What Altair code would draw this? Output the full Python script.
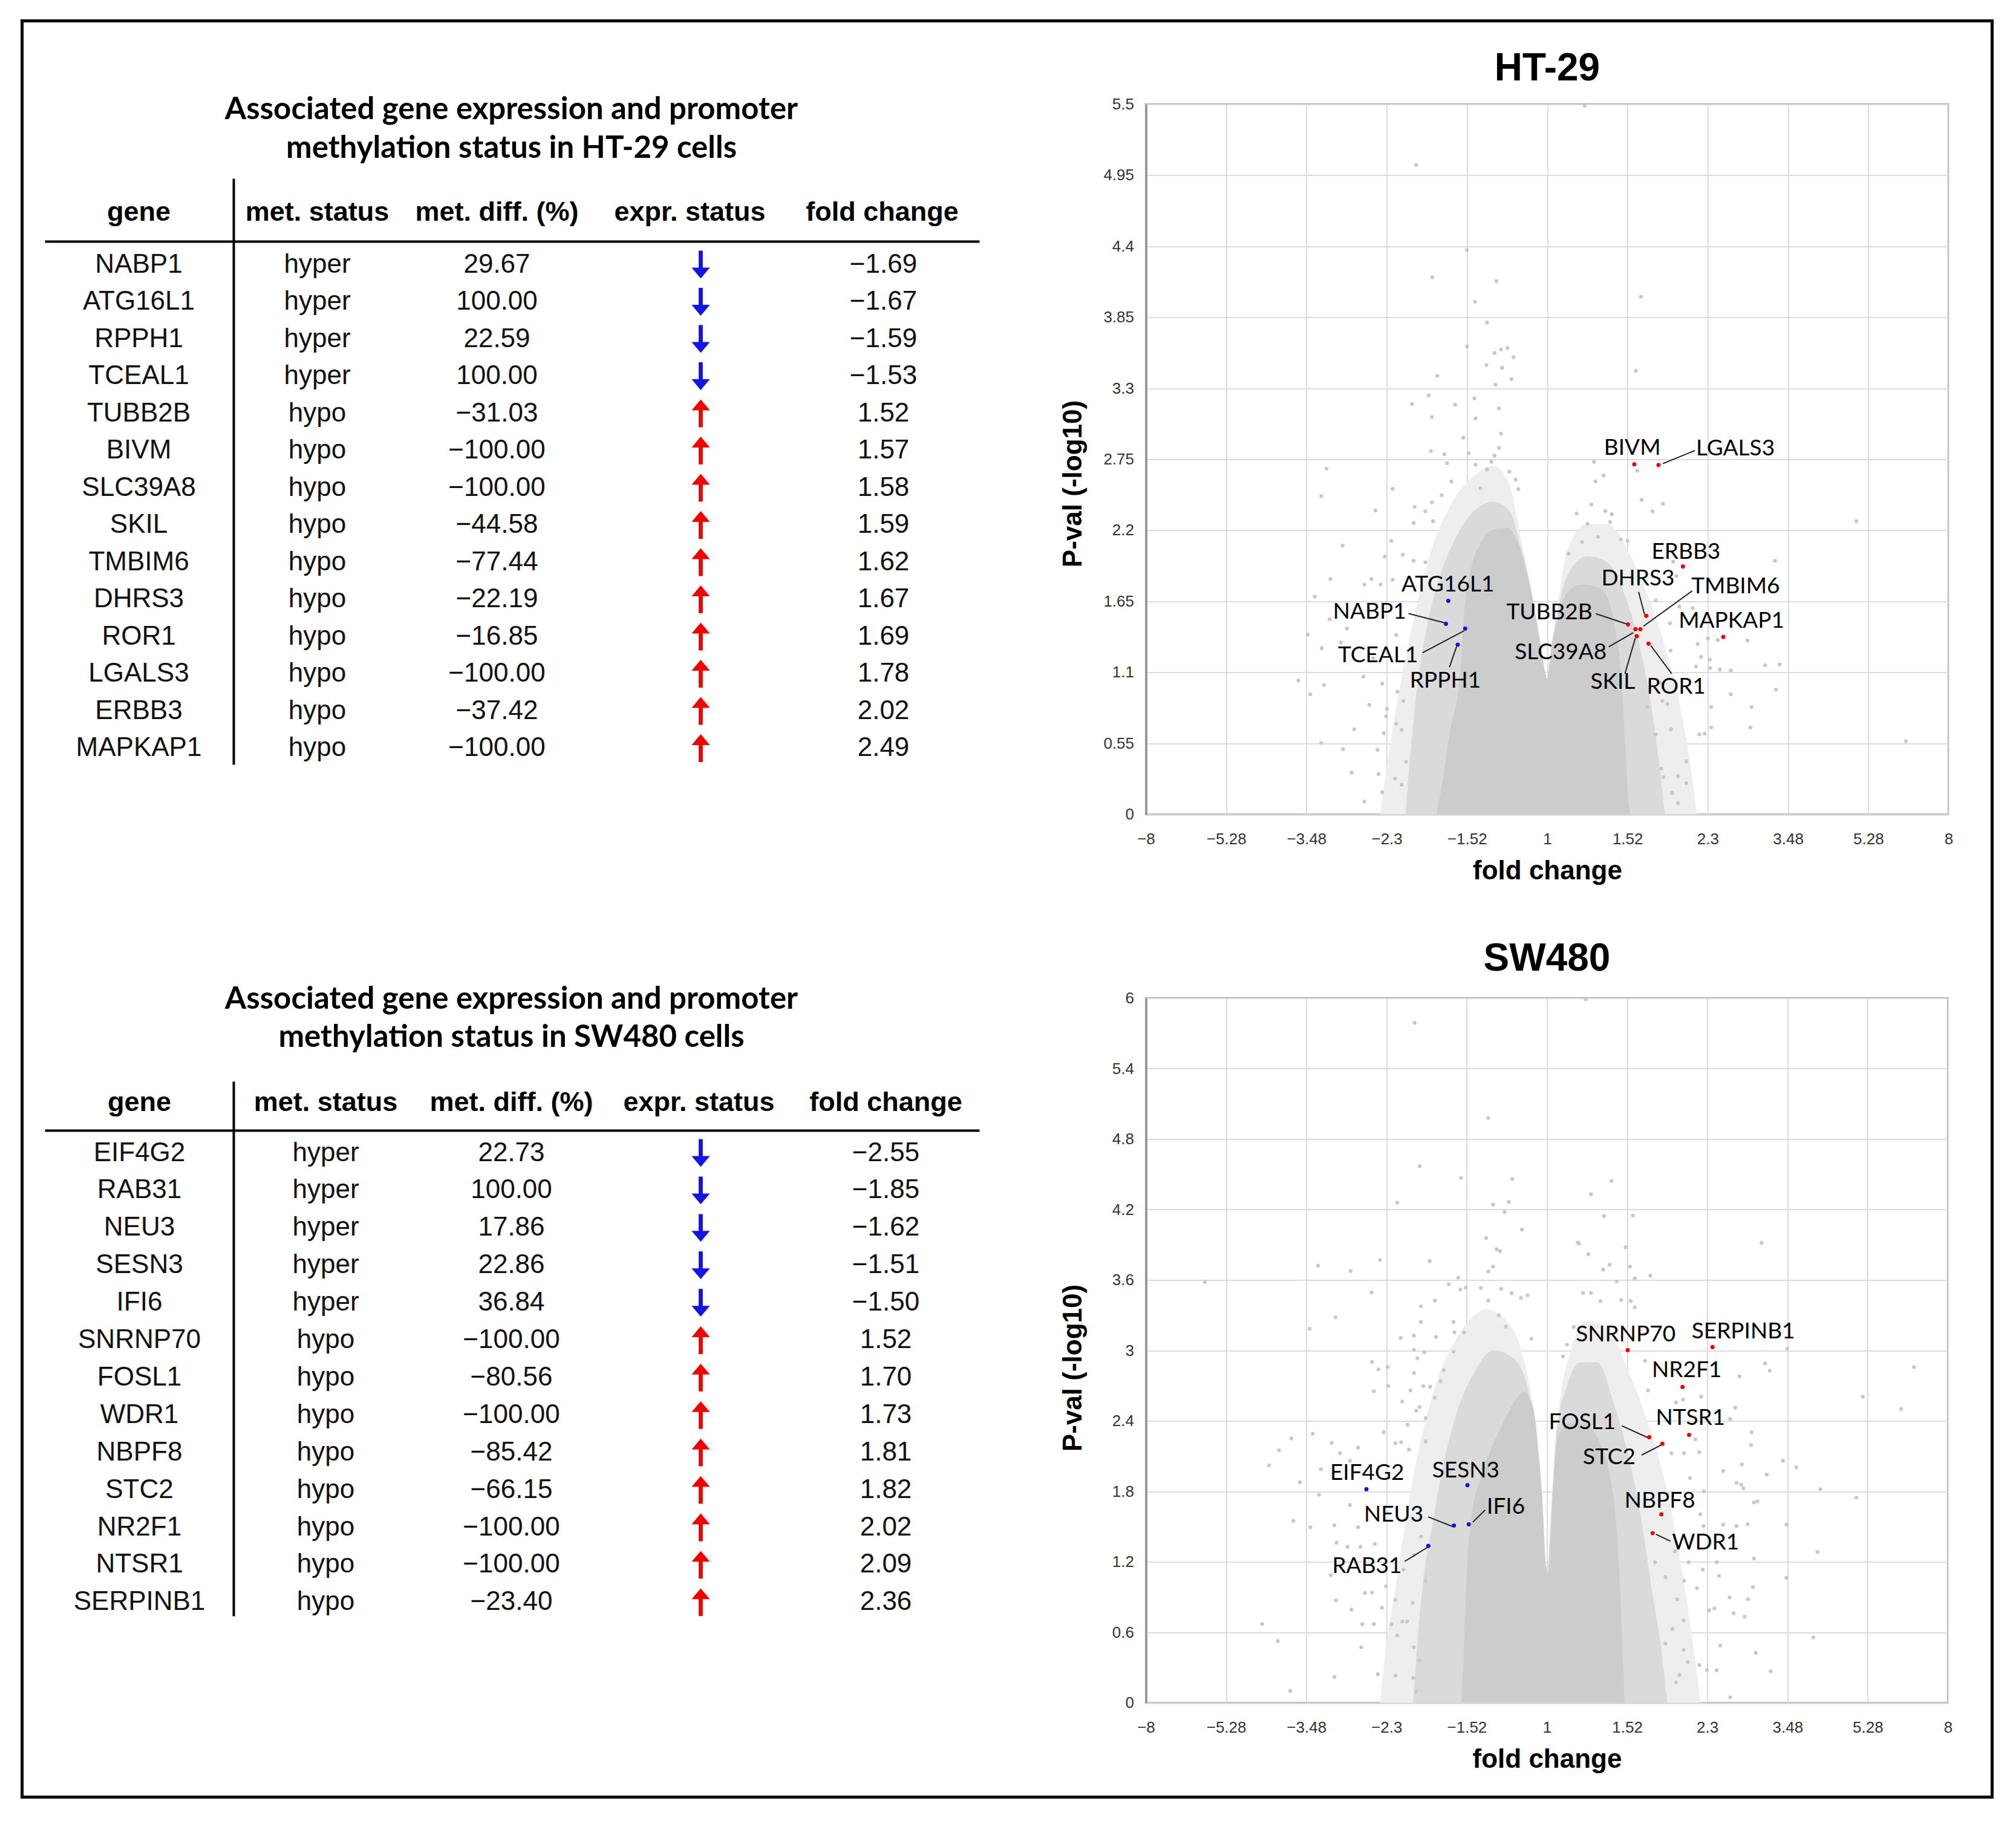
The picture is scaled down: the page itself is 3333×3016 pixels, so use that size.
import math
import altair as alt
import pandas as pd

# ----------------------------------------------------------------- data
HEADERS = ["gene", "met. status", "met. diff. (%)", "expr. status", "fold change"]

HT_TITLE = ["Associated gene expression and promoter", "methylation status in HT-29 cells"]
HT_GENES = ["NABP1", "ATG16L1", "RPPH1", "TCEAL1", "TUBB2B", "BIVM", "SLC39A8", "SKIL",
            "TMBIM6", "DHRS3", "ROR1", "LGALS3", "ERBB3", "MAPKAP1"]
HT_MET_STATUS = ["hyper", "hyper", "hyper", "hyper", "hypo", "hypo", "hypo", "hypo",
                 "hypo", "hypo", "hypo", "hypo", "hypo", "hypo"]
HT_MET_DIFF = [29.67, 100.00, 22.59, 100.00, -31.03, -100.00, -100.00, -44.58,
               -77.44, -22.19, -16.85, -100.00, -37.42, -100.00]
HT_FOLD = [-1.69, -1.67, -1.59, -1.53, 1.52, 1.57, 1.58, 1.59, 1.62, 1.67, 1.69, 1.78, 2.02, 2.49]
HT_PVAL = [1.476, 1.654, 1.314, 1.438, 1.471, 2.711, 1.434, 1.380, 1.434, 1.538, 1.322, 2.706, 1.920, 1.374]

SW_TITLE = ["Associated gene expression and promoter", "methylation status in SW480 cells"]
SW_GENES = ["EIF4G2", "RAB31", "NEU3", "SESN3", "IFI6", "SNRNP70", "FOSL1", "WDR1", "NBPF8",
            "STC2", "NR2F1", "NTSR1", "SERPINB1"]
SW_MET_STATUS = ["hyper", "hyper", "hyper", "hyper", "hyper", "hypo", "hypo", "hypo", "hypo",
                 "hypo", "hypo", "hypo", "hypo"]
SW_MET_DIFF = [22.73, 100.00, 17.86, 22.86, 36.84, -100.00, -80.56, -100.00, -85.42,
               -66.15, -100.00, -100.00, -23.40]
SW_FOLD = [-2.55, -1.85, -1.62, -1.51, -1.50, 1.52, 1.70, 1.73, 1.81, 1.82, 2.02, 2.09, 2.36]
SW_PVAL = [1.818, 1.335, 1.509, 1.853, 1.519, 3.003, 2.261, 1.444, 1.604, 2.206, 2.689, 2.281, 3.028]

# x axis: log2 fold change, labelled with the fold change
X_TICKS = [-3, -2.4, -1.8, -1.2, -0.6, 0, 0.6, 1.2, 1.8, 2.4, 3]
X_TICK_LABELS = ["\u22128", "\u22125.28", "\u22123.48", "\u22122.3", "\u22121.52", "1",
                 "1.52", "2.3", "3.48", "5.28", "8"]
HT_Y_TICKS = [0, 0.55, 1.1, 1.65, 2.2, 2.75, 3.3, 3.85, 4.4, 4.95, 5.5]
HT_Y_LABELS = ["0", "0.55", "1.1", "1.65", "2.2", "2.75", "3.3", "3.85", "4.4", "4.95", "5.5"]
SW_Y_TICKS = [0, 0.6, 1.2, 1.8, 2.4, 3.0, 3.6, 4.2, 4.8, 5.4, 6.0]
SW_Y_LABELS = ["0", "0.6", "1.2", "1.8", "2.4", "3", "3.6", "4.2", "4.8", "5.4", "6"]

# dense background cloud, read as envelopes (log2 FC, -log10 p)
HT_CORE_X = [-0.83, -0.80, -0.73, -0.65, -0.62, -0.57, -0.50, -0.42, -0.30, -0.20, -0.11, -0.05, 0.0,
             0.03, 0.075, 0.136, 0.26, 0.38, 0.45, 0.50, 0.55, 0.58, 0.60, 0.62]
HT_CORE_Y = [0.0, 0.15, 0.62, 1.09, 1.56, 1.90, 2.10, 2.20, 2.22, 2.05, 1.67, 1.32, 1.05,
             1.28, 1.50, 1.70, 1.78, 1.76, 1.68, 1.48, 1.10, 0.60, 0.20, 0.0]
HT_INNER_X = [-1.06, -1.02, -0.97, -0.90, -0.80, -0.68, -0.55, -0.40, -0.28, -0.20, -0.11, -0.05, 0.0,
              0.03, 0.075, 0.15, 0.30, 0.45, 0.58, 0.68, 0.76, 0.83, 0.88]
HT_INNER_Y = [0.0, 0.50, 1.00, 1.45, 1.85, 2.15, 2.35, 2.42, 2.35, 2.08, 1.68, 1.32, 1.05,
              1.28, 1.55, 1.85, 2.00, 1.95, 1.70, 1.35, 0.95, 0.45, 0.0]
HT_OUTER_X = [-1.25, -1.18, -1.10, -1.00, -0.88, -0.72, -0.55, -0.40, -0.28, -0.20, -0.11, -0.05,
              0.0, 0.03, 0.075, 0.15, 0.30, 0.45, 0.60, 0.75, 0.88, 0.98, 1.06, 1.12]
HT_OUTER_Y = [0.0, 0.50, 1.00, 1.50, 2.00, 2.40, 2.62, 2.70, 2.55, 2.15, 1.70, 1.32,
              1.05, 1.30, 1.60, 2.05, 2.25, 2.25, 2.05, 1.70, 1.30, 0.90, 0.45, 0.0]

SW_CORE_X = [-0.64, -0.62, -0.60, -0.56, -0.50, -0.44, -0.33, -0.25, -0.17, -0.10, -0.06, -0.035, -0.01,
             0.01, 0.02, 0.046, 0.08, 0.17, 0.27, 0.40, 0.47, 0.52, 0.55, 0.58]
SW_CORE_Y = [0.0, 0.50, 1.10, 1.60, 1.90, 2.10, 2.38, 2.55, 2.65, 2.50, 2.10, 1.75, 1.20,
             1.10, 1.20, 1.80, 2.25, 2.38, 2.38, 2.20, 1.94, 1.50, 0.90, 0.0]
SW_INNER_X = [-1.00, -0.97, -0.93, -0.86, -0.78, -0.68, -0.55, -0.40, -0.27, -0.16, -0.08, -0.03, 0.0,
              0.03, 0.07, 0.15, 0.25, 0.38, 0.50, 0.60, 0.70, 0.78, 0.85, 0.90]
SW_INNER_Y = [0.0, 0.50, 1.00, 1.50, 2.00, 2.45, 2.80, 3.00, 2.95, 2.75, 2.20, 1.60, 1.10,
              1.60, 2.30, 2.70, 2.90, 2.90, 2.55, 2.15, 1.60, 1.00, 0.50, 0.0]
SW_OUTER_X = [-1.25, -1.20, -1.13, -1.05, -0.95, -0.82, -0.65, -0.45, -0.30, -0.18, -0.08, -0.03, 0.0,
              0.03, 0.08, 0.18, 0.30, 0.45, 0.60, 0.75, 0.90, 1.00, 1.08, 1.15]
SW_OUTER_Y = [0.0, 0.50, 1.00, 1.60, 2.20, 2.75, 3.15, 3.35, 3.25, 2.95, 2.30, 1.60, 1.10,
              1.60, 2.40, 3.00, 3.25, 3.20, 2.85, 2.40, 1.80, 1.20, 0.60, 0.0]

# individual scattered genes outside the dense cloud (log2 FC, -log10 p)
HT_SCATTER = [
    (-0.98, 5.03), (-0.60, 4.37), (-0.86, 4.16), (-0.38, 4.13), (-0.54, 3.97), (0.70, 4.01),
    (-0.45, 3.81), (0.28, 5.49), (0.35, 2.73), (0.22, 2.33), (0.33, 2.40), (0.36, 2.58),
    (0.26, 2.11), (0.16, 2.02), (0.38, 2.15), (0.30, 2.25),
    (-1.650, 2.677), (-1.689, 2.465), (-1.285, 2.354), (-1.156, 2.521), (-0.822, 3.397),
    (-0.886, 3.246), (-1.011, 3.178), (-0.688, 3.173), (-0.862, 3.078), (-0.544, 3.222),
    (-0.536, 3.067), (-0.599, 3.624), (-0.628, 2.918), (-0.870, 2.814), (-0.768, 2.790),
    (-0.749, 2.720), (-0.717, 2.578), (-0.991, 2.382), (-0.911, 2.347), (-0.862, 2.417),
    (-0.789, 2.472), (-0.999, 2.257), (-0.854, 2.271), (-1.529, 2.082), (-1.166, 2.118),
    (-1.214, 1.997), (-1.080, 2.011), (-0.999, 1.964), (-0.911, 1.952), (-1.621, 1.822),
    (-1.366, 1.780), (-1.314, 1.822), (-1.246, 1.780), (-1.156, 1.818), (-1.737, 1.686),
    (-1.626, 1.511), (-1.498, 1.440), (-1.790, 1.393), (-1.543, 1.331), (-1.686, 1.287),
    (-1.129, 1.390), (-1.301, 1.209), (-1.860, 1.036), (-1.669, 1.001), (-1.771, 0.930),
    (-1.374, 1.067), (-1.233, 1.013), (-1.330, 0.848), (-1.443, 0.659), (-1.222, 0.628),
    (-1.689, 0.552), (-1.527, 0.505), (-1.269, 0.500), (-1.463, 0.323), (-1.261, 0.312),
    (-1.367, 0.099), (-1.233, 0.170), (-1.198, 0.819), (-1.204, 0.760), (-1.129, 0.701),
    (-1.088, 0.654), (-1.120, 0.949), (-1.075, 0.878), (-1.137, 0.276), (-1.088, 0.229),
    (-1.056, 0.406), (-0.394, 3.574), (-0.345, 3.602), (-0.297, 3.612), (-0.252, 3.541),
    (-0.455, 3.480), (-0.337, 3.459), (-0.268, 3.371), (-0.386, 3.329), (-0.361, 3.145),
    (-0.345, 2.949), (-0.361, 2.838), (-0.394, 2.779), (-0.418, 2.731), (-0.284, 2.653),
    (-0.236, 2.594), (-0.216, 2.519), (-0.450, 2.672), (-0.499, 2.526), (-0.588, 2.797),
    (-0.536, 2.708),
    (0.662, 3.435), (0.421, 2.625), (0.673, 2.661), (0.706, 2.436), (0.787, 2.347),
    (0.865, 2.406), (0.434, 2.349), (0.483, 2.325), (0.470, 2.264), (2.311, 2.271),
    (1.702, 1.964), (0.941, 1.957), (0.966, 1.846), (0.551, 2.129), (0.600, 2.118),
    (0.811, 1.657), (1.088, 1.598), (0.987, 1.610), (0.917, 1.480), (1.201, 1.362),
    (1.275, 1.350), (1.497, 1.346), (1.125, 1.320), (0.922, 1.268), (1.150, 1.220),
    (1.215, 1.197), (1.112, 1.145), (1.218, 1.133), (1.291, 1.121), (1.372, 1.114),
    (1.629, 1.154), (1.738, 1.161), (1.710, 0.966), (1.372, 0.930), (1.226, 0.831),
    (1.527, 0.831), (1.519, 0.673), (1.226, 0.673), (0.925, 0.659), (1.137, 0.619),
    (1.177, 0.626), (2.681, 0.567), (1.039, 0.411), (0.852, 0.354), (0.977, 0.295),
    (1.039, 0.241), (0.933, 0.165), (0.977, 0.087), (0.868, 0.288), (0.811, 0.619),
    (0.860, 0.878), (0.844, 1.020), (0.746, 0.831), (0.900, 0.855),
]
SW_SCATTER = [
    (-0.99, 5.79), (-0.44, 4.98), (0.33, 4.33), (0.24, 3.91), (0.29, 5.99),
    (0.23, 3.92), (0.31, 3.82), (0.27, 3.49), (0.33, 3.49), (0.40, 3.42), (0.20, 3.20),
    (0.15, 3.05), (0.12, 2.95),
    (-0.952, 4.570), (-0.642, 4.470), (-0.259, 4.460), (-1.120, 4.259), (-0.403, 4.243),
    (-0.285, 4.265), (-0.316, 4.180), (-0.186, 4.029), (-0.455, 3.957), (-0.377, 3.862),
    (-0.351, 3.846), (-1.248, 3.771), (-1.712, 3.721), (-1.469, 3.676), (-0.877, 3.761),
    (-0.403, 3.714), (-0.438, 3.673), (-0.664, 3.620), (-0.734, 3.563), (-0.647, 3.519),
    (-0.607, 3.535), (-2.558, 3.582), (-1.312, 3.494), (-0.838, 3.425), (-0.943, 3.377),
    (-0.494, 3.532), (-0.342, 3.525), (-0.264, 3.488), (-0.194, 3.447), (-0.145, 3.469),
    (-0.438, 3.425), (-1.582, 3.283), (-1.775, 3.185), (-0.943, 3.242), (-0.699, 3.242),
    (-0.360, 3.299), (-0.308, 3.204), (-1.094, 3.107), (-0.995, 3.126), (-0.830, 3.116),
    (-0.691, 3.154), (-0.621, 3.154), (-0.116, 3.100), (-0.995, 3.006), (-0.917, 2.984),
    (-0.969, 2.934), (-0.699, 2.990), (-1.308, 2.902), (-1.260, 2.839), (-1.192, 2.858),
    (-0.995, 2.808), (-0.772, 2.833), (-0.795, 2.738), (-0.873, 2.691), (-1.295, 2.653),
    (-1.187, 2.697), (-1.021, 2.660), (-0.925, 2.697), (-1.082, 2.565), (-0.978, 2.487),
    (-0.952, 2.518), (-0.838, 2.597), (-1.042, 2.367), (-0.908, 2.424), (-1.221, 2.304),
    (-1.752, 2.291), (-1.912, 2.251), (-2.005, 2.150), (-2.078, 2.021), (-1.848, 1.879),
    (-1.705, 1.772), (-1.610, 2.213), (-1.547, 2.125), (-1.413, 2.172), (-1.474, 2.062),
    (-1.691, 1.989), (-1.134, 2.210), (-1.091, 2.219), (-1.033, 2.156), (-0.908, 2.225),
    (-1.897, 1.549), (-1.770, 1.495), (-1.590, 1.511), (-1.474, 1.684), (-1.413, 1.495),
    (-1.395, 1.328), (-1.491, 1.328), (-1.575, 1.363), (-1.288, 1.353), (-1.617, 1.086),
    (-1.578, 0.872), (-1.462, 0.793), (-1.361, 0.935), (-1.308, 0.938), (-1.234, 0.809),
    (-1.204, 0.991), (-1.134, 0.875), (-2.130, 0.670), (-2.013, 0.526), (-1.382, 0.670),
    (-1.295, 0.670), (-1.164, 0.667), (-1.390, 0.472), (-1.120, 0.573), (-1.082, 0.692),
    (-1.590, 0.220), (-1.265, 0.242), (-1.134, 0.230), (-1.920, 0.101), (-1.000, 0.211),
    (-0.978, 0.094), (-0.995, 0.472), (-0.952, 0.362), (-1.004, 0.850), (-1.047, 0.692),
    (-0.908, 1.039), (-1.073, 1.133), (-0.995, 1.259), (-0.943, 1.416),
    (0.483, 4.444), (0.426, 4.145), (0.644, 4.148), (1.606, 3.916), (0.588, 3.878),
    (0.469, 3.730), (0.421, 3.689), (0.621, 3.714), (0.774, 3.636), (0.657, 3.613),
    (0.522, 3.588), (0.556, 3.431), (0.626, 3.421), (0.657, 3.368), (1.798, 3.015),
    (2.746, 2.858), (1.632, 2.889), (1.667, 2.827), (1.441, 2.779), (0.734, 2.912),
    (0.757, 2.660), (1.154, 2.606), (2.363, 2.606), (2.649, 2.502), (1.409, 2.512),
    (1.371, 2.417), (0.966, 2.556), (1.018, 2.581), (1.531, 2.304), (1.527, 2.194),
    (1.110, 2.244), (1.140, 2.134), (0.931, 2.125), (1.026, 2.125), (1.766, 2.062),
    (1.865, 2.005), (1.319, 1.974), (1.458, 2.030), (1.644, 1.942), (1.418, 1.873),
    (1.453, 1.857), (1.470, 1.826), (2.045, 1.819), (1.174, 1.800), (2.315, 1.747),
    (1.070, 1.914), (1.549, 1.706), (1.575, 1.715), (1.148, 1.605), (1.502, 1.520),
    (1.418, 1.505), (1.319, 1.517), (1.792, 1.517), (1.171, 1.505), (2.024, 1.284),
    (1.549, 1.228), (1.270, 1.196), (1.166, 1.133), (1.792, 1.064), (1.288, 1.080),
    (1.122, 0.976), (1.540, 0.985), (1.366, 0.897), (1.505, 0.881), (1.213, 0.787),
    (1.253, 0.803), (1.397, 0.762), (1.479, 0.733), (1.023, 0.702), (1.993, 0.557),
    (1.296, 0.488), (1.563, 0.425), (1.023, 0.450), (1.140, 0.321), (1.197, 0.277),
    (1.270, 0.277), (1.674, 0.268), (1.371, 0.047), (0.966, 0.173), (1.053, 0.346),
    (0.992, 0.236), (0.887, 0.504), (0.939, 0.630), (0.974, 0.881), (1.026, 1.039),
    (1.061, 1.196), (0.957, 1.290), (0.887, 1.070), (0.809, 1.196),
]

# gene label placement (annotation layout): gene, x, y, align, leader line or None
HT_LABELS = [
    ("BIVM", 0.636, 2.837, "center", None),
    ("LGALS3", 1.112, 2.833, "left", (0.865, 2.717, 1.104, 2.818)),
    ("ERBB3", 1.037, 2.032, "center", None),
    ("DHRS3", 0.678, 1.824, "center", (0.683, 1.723, 0.727, 1.550)),
    ("TMBIM6", 1.077, 1.762, "left", (1.084, 1.731, 0.719, 1.457)),
    ("TUBB2B", 0.338, 1.563, "right", (0.363, 1.554, 0.591, 1.476)),
    ("MAPKAP1", 0.982, 1.496, "left", None),
    ("SLC39A8", 0.444, 1.254, "right", (0.460, 1.297, 0.642, 1.407)),
    ("SKIL", 0.490, 1.023, "center", (0.581, 1.090, 0.658, 1.364)),
    ("ROR1", 0.964, 0.984, "center", (0.930, 1.090, 0.774, 1.307)),
    ("ATG16L1", -0.743, 1.779, "center", None),
    ("RPPH1", -0.762, 1.033, "center", (-0.731, 1.139, -0.678, 1.299)),
    ("NABP1", -1.055, 1.569, "right", (-1.036, 1.555, -0.768, 1.484)),
    ("TCEAL1", -0.966, 1.228, "right", (-0.933, 1.251, -0.622, 1.421)),
]
SW_LABELS = [
    ("SNRNP70", 0.589, 3.136, "center", None),
    ("SERPINB1", 1.469, 3.160, "center", None),
    ("NR2F1", 1.046, 2.831, "center", None),
    ("NTSR1", 1.074, 2.423, "center", None),
    ("FOSL1", 0.515, 2.388, "right", (0.561, 2.358, 0.755, 2.257)),
    ("STC2", 0.663, 2.086, "right", (0.709, 2.109, 0.861, 2.198)),
    ("NBPF8", 0.845, 1.716, "center", None),
    ("WDR1", 0.935, 1.361, "left", (0.815, 1.435, 0.924, 1.376)),
    ("SESN3", -0.607, 1.973, "center", None),
    ("IFI6", -0.450, 1.666, "left", (-0.554, 1.538, -0.462, 1.642)),
    ("NEU3", -0.924, 1.598, "right", (-0.889, 1.583, -0.704, 1.500)),
    ("EIF4G2", -1.345, 1.957, "center", None),
    ("RAB31", -1.086, 1.160, "right", (-1.063, 1.205, -0.884, 1.330)),
]

# ----------------------------------------------------------------- style
F_TAB = "Liberation Sans"
F_CAL = "Lato"
UP_PATH = "M0,-1 L0.66,-0.22 L0.15,-0.22 L0.15,1 L-0.15,1 L-0.15,-0.22 L-0.66,-0.22 Z"
DOWN_PATH = "M0,1 L0.66,0.22 L0.15,0.22 L0.15,-1 L-0.15,-1 L-0.15,0.22 L-0.66,0.22 Z"


def fmt(v):
    return f"{v:.2f}".replace("-", "\u2212")


def fc_to_x(v):
    return math.copysign(math.log2(abs(v)), v)


one = pd.DataFrame({"k": [0]})


def table_chart(title_lines, genes, met_status, met_diff, fold, geo, border=False):
    n = len(genes)
    df = pd.DataFrame({
        "idx": list(range(n)),
        "gene": genes,
        "status": met_status,
        "diff": [fmt(v) for v in met_diff],
        "fold": [fmt(v) for v in fold],
        "dir": ["down" if v < 0 else "up" for v in fold],
    })
    yenc = alt.Y("idx:Q", scale=alt.Scale(domain=[0, n - 1],
                                          range=[geo["row0"], geo["row0"] + geo["dy"] * (n - 1)]),
                 axis=None)
    layers = []
    for i, line in enumerate(title_lines):
        layers.append(alt.Chart(one).mark_text(
            text=line, font=F_CAL, fontSize=51, fontWeight="bold", color="#000000",
            align="center", baseline="middle").encode(
            x=alt.value(geo["title_x"]), y=alt.value(geo["title_y"][i])))
    for j, h in enumerate(HEADERS):
        layers.append(alt.Chart(one).mark_text(
            text=h, font=F_TAB, fontSize=45, fontWeight="bold", color="#000000",
            align="center", baseline="middle").encode(
            x=alt.value(geo["hx"][j]), y=alt.value(geo["hy"])))
    layers.append(alt.Chart(one).mark_rule(color="#000000", strokeWidth=4).encode(
        x=alt.value(geo["rule_x"][0]), x2=alt.value(geo["rule_x"][1]), y=alt.value(geo["rule_y"])))
    layers.append(alt.Chart(one).mark_rule(color="#000000", strokeWidth=4).encode(
        x=alt.value(geo["vline_x"]), y=alt.value(geo["vline_y"][0]), y2=alt.value(geo["vline_y"][1])))
    for j, field in enumerate(["gene", "status", "diff", None, "fold"]):
        if field is None:
            continue
        layers.append(alt.Chart(df).mark_text(
            font=F_TAB, fontSize=44, color="#111111", align="center", baseline="middle").encode(
            x=alt.value(geo["cx"][j]), y=yenc, text=f"{field}:N"))
    layers.append(alt.Chart(df).mark_point(filled=True, size=2100, opacity=1, strokeWidth=0).encode(
        x=alt.value(geo["cx"][3]), y=yenc,
        shape=alt.Shape("dir:N", scale=alt.Scale(domain=["down", "up"], range=[DOWN_PATH, UP_PATH]),
                        legend=None),
        color=alt.Color("dir:N", scale=alt.Scale(domain=["down", "up"], range=["#1414e6", "#f20000"]),
                        legend=None)))
    if border:
        layers.append(alt.Chart(one).mark_rect(filled=False, color="#000000", strokeWidth=5).encode(
            x=alt.value(geo["border"][0]), x2=alt.value(geo["border"][1]),
            y=alt.value(geo["border"][2]), y2=alt.value(geo["border"][3])))
    return alt.layer(*layers).properties(
        width=geo["w"], height=geo["h"], view=alt.ViewBackground(stroke="transparent"))


def volcano(title, y_ticks, y_labels, y_step, core, inner, outer, scat, genes, fold, pval,
            labels, w, h, title_offset, ytitle_y):
    xs = alt.Scale(domain=[-3, 3], nice=False, zero=False)
    ys = alt.Scale(domain=[0, y_ticks[-1]], nice=False, zero=False)
    x_expr = "[" + ",".join(f"'{s}'" for s in X_TICK_LABELS) + "][round((datum.value + 3) / 0.6)]"
    y_expr = "[" + ",".join(f"'{s}'" for s in y_labels) + f"][round(datum.value / {y_step})]"
    common = dict(ticks=False, grid=True, gridColor="#dcdcdc", gridWidth=2, labelFont=F_TAB,
                  labelFontSize=26, labelColor="#333333", labelFlush=False, labelOverlap=False,
                  titleFont=F_TAB, titleFontSize=44, titleFontWeight="bold", titleColor="#000000",
                  titleBaseline="middle")
    xaxis = alt.Axis(values=X_TICKS, labelExpr=x_expr, title="fold change", labelPadding=28,
                     domainColor="#d0d0d0", domainWidth=3, titleY=94, **common)
    yaxis = alt.Axis(values=y_ticks, labelExpr=y_expr, title="P-val (-log10)", labelPadding=20,
                     domainColor="#999999", domainWidth=4, titleX=-120, titleY=ytitle_y, **common)

    def X(f):
        return alt.X(f"{f}:Q", scale=xs, axis=xaxis)

    def Y(f):
        return alt.Y(f"{f}:Q", scale=ys, axis=yaxis)

    layers = []
    for (ax, ay), col in [(outer, "#eeeeee"), (inner, "#dadada"), (core, "#cccccc")]:
        d = pd.DataFrame({"x": ax, "y": ay})
        layers.append(alt.Chart(d).mark_area(color=col, interpolate="monotone").encode(x=X("x"), y=Y("y")))
    sd = pd.DataFrame(scat, columns=["x", "y"])
    layers.append(alt.Chart(sd).mark_circle(size=40, color="#c8c8c8", opacity=1).encode(x=X("x"), y=Y("y")))

    lead = pd.DataFrame([{"x1": l[4][0], "y1": l[4][1], "x2": l[4][2], "y2": l[4][3]}
                         for l in labels if l[4] is not None])
    layers.append(alt.Chart(lead).mark_rule(color="#222222", strokeWidth=2).encode(
        x=X("x1"), y=Y("y1"), x2=alt.X2("x2"), y2=alt.Y2("y2")))

    hd = pd.DataFrame({"x": [fc_to_x(v) for v in fold], "y": pval,
                       "dir": ["down" if v < 0 else "up" for v in fold], "gene": genes})
    layers.append(alt.Chart(hd).mark_circle(size=48, opacity=1).encode(
        x=X("x"), y=Y("y"),
        color=alt.Color("dir:N", scale=alt.Scale(domain=["down", "up"], range=["#3a3ad8", "#e0202c"]),
                        legend=None)))

    ld = pd.DataFrame([{"gene": l[0], "lx": l[1], "ly": l[2], "al": l[3]} for l in labels])
    for al in ["left", "center", "right"]:
        sub = ld[ld["al"] == al]
        if len(sub) == 0:
            continue
        layers.append(alt.Chart(sub).mark_text(
            font=F_CAL, fontSize=37, color="#000000", align=al, baseline="middle").encode(
            x=X("lx"), y=Y("ly"), text="gene:N"))

    return alt.layer(*layers).properties(
        width=w, height=h,
        title=alt.TitleParams(title, font=F_TAB, fontSize=64, fontWeight="bold", color="#000000",
                              anchor="middle", offset=title_offset),
        view=alt.ViewBackground(stroke="#a0a0a0", strokeWidth=3))


HT_GEO = dict(w=1700, h=1174, title_x=809, title_y=[9, 73], hy=178, hx=[193, 488, 785, 1104, 1422],
              rule_x=[38, 1583], rule_y=227, vline_x=350, vline_y=[123, 1092], row0=265, dy=61.5,
              cx=[193, 488, 785, 1122, 1424], border=[0, 3257, -138, 2799])
SW_GEO = dict(w=1700, h=1165, title_x=809, title_y=[2, 65], hy=172, hx=[194, 502, 809, 1119, 1428],
              rule_x=[38, 1583], rule_y=219, vline_x=350, vline_y=[138, 1022], row0=256, dy=61.9,
              cx=[194, 502, 809, 1122, 1428])

t1 = table_chart(HT_TITLE, HT_GENES, HT_MET_STATUS, HT_MET_DIFF, HT_FOLD, HT_GEO, border=True)
t2 = table_chart(SW_TITLE, SW_GENES, SW_MET_STATUS, SW_MET_DIFF, SW_FOLD, SW_GEO)
v1 = volcano("HT-29", HT_Y_TICKS, HT_Y_LABELS, 0.55,
             (HT_CORE_X, HT_CORE_Y), (HT_INNER_X, HT_INNER_Y), (HT_OUTER_X, HT_OUTER_Y),
             HT_SCATTER, HT_GENES, HT_FOLD, HT_PVAL, HT_LABELS, 1327, 1174, 14, 627)
v2 = volcano("SW480", SW_Y_TICKS, SW_Y_LABELS, 0.6,
             (SW_CORE_X, SW_CORE_Y), (SW_INNER_X, SW_INNER_Y), (SW_OUTER_X, SW_OUTER_Y),
             SW_SCATTER, SW_GENES, SW_FOLD, SW_PVAL, SW_LABELS, 1326, 1165, 20, 611)

chart = alt.concat(t1, v1, t2, v2, columns=2, bounds="flush",
                   spacing={"row": 304, "column": 158}).properties(
    padding={"left": 25.5, "top": 23.5, "right": 5, "bottom": 5}
).configure(background="#ffffff")

chart.save("out.html", embed_options={"renderer": "svg", "actions": False})
